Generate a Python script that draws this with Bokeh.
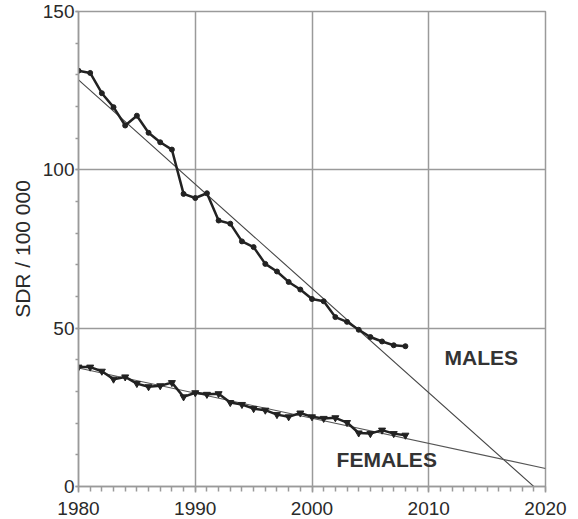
from bokeh.plotting import figure
from bokeh.models import FixedTicker, Range1d, Label
from bokeh.embed import file_html
from bokeh.resources import INLINE

years = list(range(1980, 2009))
males = [131.3, 130.6, 124.2, 119.8, 114.0, 117.1, 111.7, 108.7, 106.4,
         92.4, 91.1, 92.6, 84.0, 83.0, 77.4, 75.6, 70.3, 67.9, 64.6, 62.2,
         59.2, 58.5, 53.5, 52.0, 49.5, 47.2, 45.8, 44.6, 44.3]
females = [37.7, 37.7, 36.4, 33.9, 34.6, 32.5, 31.5, 31.8, 32.8, 28.3,
           29.6, 29.1, 29.3, 26.5, 25.9, 24.6, 24.1, 22.7, 22.0, 23.2,
           22.0, 21.5, 21.7, 20.2, 16.9, 16.7, 17.8, 16.7, 16.2]
trend_years = [1980, 2020]
male_trend = [128.4, -3.3]
female_trend = [37.4, 5.7]
x_ticks = [1980, 1990, 2000, 2010, 2020]
y_ticks = [0, 50, 100, 150]

FONT = "Liberation Sans"
AX = "#9a9a9a"
TXT = "#2a2a2a"

p = figure(frame_width=467, frame_height=475, output_backend="svg",
           toolbar_location=None, x_range=Range1d(1980, 2020),
           y_range=Range1d(0, 150), min_border_left=78, min_border_top=11,
           min_border_right=25, min_border_bottom=30)
p.background_fill_color = "white"
p.border_fill_color = "white"
p.outline_line_color = AX
p.outline_line_width = 1.5

p.xaxis.ticker = FixedTicker(ticks=x_ticks, minor_ticks=list(range(1980, 2021)))
p.yaxis.ticker = FixedTicker(ticks=y_ticks, minor_ticks=list(range(0, 151, 10)))
for ax in (p.xaxis[0], p.yaxis[0]):
    ax.axis_line_color = AX
    ax.axis_line_width = 1.5
    ax.major_tick_line_color = AX
    ax.minor_tick_line_color = AX
    ax.major_tick_line_width = 1.5
    ax.minor_tick_line_width = 1.5
    ax.major_tick_in = 0
    ax.minor_tick_in = 0
    ax.major_label_text_font = FONT
    ax.major_label_text_font_size = "19px"
    ax.major_label_text_color = TXT
p.xaxis.major_tick_out = 6
p.xaxis.minor_tick_out = 5
p.xaxis.major_label_standoff = 9
p.yaxis.major_tick_out = 3
p.yaxis.minor_tick_out = 3
p.yaxis.major_label_standoff = 1
p.yaxis.axis_label = "SDR / 100 000"
p.yaxis.axis_label_text_font = FONT
p.yaxis.axis_label_text_font_size = "21px"
p.yaxis.axis_label_text_font_style = "normal"
p.yaxis.axis_label_text_color = TXT
p.yaxis.axis_label_standoff = 6

p.xgrid.ticker = FixedTicker(ticks=x_ticks)
p.ygrid.ticker = FixedTicker(ticks=y_ticks)
p.grid.grid_line_color = AX
p.grid.grid_line_width = 1.5

# trend lines
p.line(trend_years, male_trend, line_color="#444444", line_width=1.1)
p.line(trend_years, female_trend, line_color="#555555", line_width=1.1)

# data
p.line(years, males, line_color="#222222", line_width=2.5)
p.scatter(years, males, marker="circle", size=5, fill_color="#222222", line_color="#222222")
p.line(years, females, line_color="#222222", line_width=2.5)
p.scatter(years, females, marker="inverted_triangle", size=7, fill_color="#222222", line_color="#222222")

for txt, x, y in (("MALES", 2014.5, 40.7), ("FEMALES", 2006.4, 8.4)):
    p.add_layout(Label(x=x, y=y, text=txt, text_font=FONT, text_font_size="21px",
                       text_font_style="bold", text_color="#333333",
                       text_align="center", text_baseline="middle"))

open("out.html", "w").write(file_html(p, INLINE))
